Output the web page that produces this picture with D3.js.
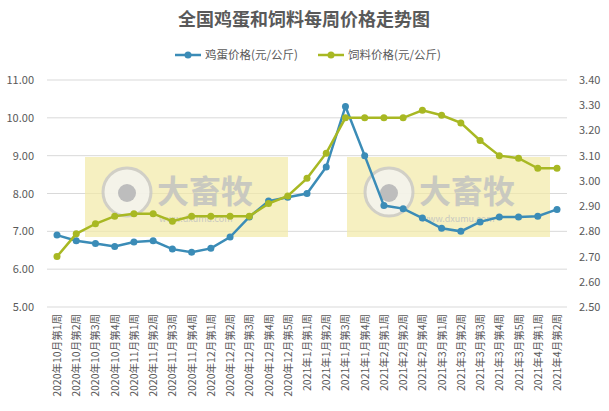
<!DOCTYPE html><html><head><meta charset="utf-8"><script src="https://cdn.jsdelivr.net/npm/d3@7"></script>
<style>body{margin:0;background:#fff;font-family:"Noto Sans CJK SC","Noto Sans",sans-serif}</style></head><body><svg id="c" width="609" height="411"></svg>
<script>
const categories=["2020年10月第1周","2020年10月第2周","2020年10月第3周","2020年10月第4周","2020年11月第1周","2020年11月第2周","2020年11月第3周","2020年11月第4周","2020年12月第1周","2020年12月第2周","2020年12月第3周","2020年12月第4周","2020年12月第5周","2021年1月第1周","2021年1月第2周","2021年1月第3周","2021年1月第4周","2021年2月第1周","2021年2月第2周","2021年2月第4周","2021年3月第1周","2021年3月第2周","2021年3月第3周","2021年3月第4周","2021年3月第5周","2021年4月第1周","2021年4月第2周"];
const eggPrice=[6.9,6.75,6.68,6.6,6.72,6.75,6.53,6.45,6.55,6.85,7.38,7.8,7.9,8.0,8.7,10.3,9.0,7.68,7.6,7.35,7.08,7.0,7.25,7.38,7.38,7.4,7.58];
const feedPrice=[2.70,2.79,2.83,2.86,2.87,2.87,2.84,2.86,2.86,2.86,2.86,2.91,2.94,3.01,3.11,3.25,3.25,3.25,3.25,3.28,3.26,3.23,3.16,3.10,3.09,3.05,3.05];
const leftTicks=[5,6,7,8,9,10,11];
const rightTicks=[2.5,2.6,2.7,2.8,2.9,3.0,3.1,3.2,3.3,3.4];
const seriesNames=["鸡蛋价格(元/公斤)","饲料价格(元/公斤)"];
const colors=["#3b8cb7","#a8b823"];
const svg=d3.select("#c");
const L=47,R=567,T=80,B=307;
const x=d3.scalePoint().domain(categories).range([57,557]);
const yl=d3.scaleLinear().domain([5,11]).range([B,T]);
const yr=d3.scaleLinear().domain([2.5,3.4]).range([B,T]);
svg.append("text").attr("x",304).attr("y",26).attr("text-anchor","middle").attr("font-size",18).attr("font-weight","bold").attr("fill","#595959").text("全国鸡蛋和饲料每周价格走势图");
svg.append("g").selectAll("line").data(leftTicks).join("line").attr("x1",L).attr("x2",R).attr("y1",d=>yl(d)).attr("y2",d=>yl(d)).attr("stroke","#d9d9d9");
[[85,288],[347,550]].forEach(([a,b])=>{
 const g=svg.append("g");
 g.append("rect").attr("x",a).attr("y",157).attr("width",b-a).attr("height",80).attr("fill","#f2e9a6").attr("opacity",0.7);
 g.append("circle").attr("cx",a+42).attr("cy",192).attr("r",24).attr("fill","#f4f4f4").attr("stroke","#c8c8c8").attr("stroke-width",3).attr("opacity",0.8);
 g.append("circle").attr("cx",a+42).attr("cy",193).attr("r",9).attr("fill","#bdbdbd");
 g.append("text").attr("x",a+72).attr("y",203).attr("font-size",32).attr("font-weight","bold").attr("fill","#c9c9c0").text("大畜牧");
 g.append("text").attr("x",a+74).attr("y",222).attr("font-size",9).attr("fill","#c9c9c0").text("www.dxumu.com");
});
svg.append("g").selectAll("text").data(leftTicks).join("text").attr("x",34).attr("y",d=>yl(d)+4).attr("text-anchor","end").attr("font-size",11).attr("fill","#595959").text(d=>d.toFixed(2));
svg.append("g").selectAll("text").data(rightTicks).join("text").attr("x",579).attr("y",d=>yr(d)+4).attr("text-anchor","start").attr("font-size",11).attr("fill","#595959").text(d=>d.toFixed(2));
svg.append("g").selectAll("text").data(categories).join("text").attr("transform",d=>`translate(${x(d)+4},${B+7}) rotate(-90)`).attr("text-anchor","end").attr("font-size",10.5).attr("fill","#595959").text(d=>d);
const draw=(data,ys,c)=>{
 svg.append("path").datum(data).attr("fill","none").attr("stroke",c).attr("stroke-width",2.5).attr("d",d3.line().x((d,i)=>x(categories[i])).y(d=>ys(d)));
 svg.append("g").selectAll("circle").data(data).join("circle").attr("cx",(d,i)=>x(categories[i])).attr("cy",d=>ys(d)).attr("r",3.5).attr("fill",c);
};
draw(eggPrice,yl,colors[0]);
draw(feedPrice,yr,colors[1]);
[[175,0],[318,1]].forEach(([lx,i])=>{
 svg.append("line").attr("x1",lx).attr("x2",lx+26).attr("y1",55).attr("y2",55).attr("stroke",colors[i]).attr("stroke-width",2.5);
 svg.append("circle").attr("cx",lx+13).attr("cy",55).attr("r",3.5).attr("fill",colors[i]);
 svg.append("text").attr("x",lx+30).attr("y",59).attr("font-size",11.5).attr("fill","#595959").text(seriesNames[i]);
});
</script></body></html>
